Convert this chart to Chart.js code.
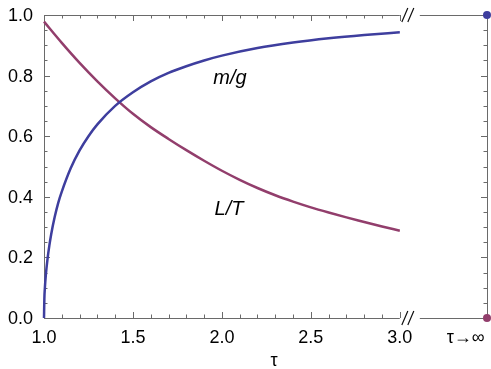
<!DOCTYPE html>
<html>
<head>
<meta charset="utf-8">
<script src="https://cdn.jsdelivr.net/npm/chart.js@4/dist/chart.umd.min.js"></script>
<style>
html,body{margin:0;padding:0;background:#fff;}
#wrap{width:491px;height:369px;position:relative;}
</style>
</head>
<body>
<div id="wrap"><canvas id="c" width="491" height="369"></canvas></div>
<script>
// ---- data ----
const tauMG = [1.0,1.002,1.005,1.01,1.02,1.03,1.04,1.06,1.08,1.1,1.15,1.2,1.25,1.3,1.4,1.5,1.6,1.7,1.8,1.9,2.0,2.2,2.4,2.6,2.8,3.0];
const valMG = [0,0.063,0.1,0.14,0.196,0.239,0.275,0.333,0.38,0.417,0.494,0.553,0.6,0.639,0.7,0.745,0.781,0.809,0.831,0.85,0.866,0.891,0.909,0.923,0.934,0.943];
const tauLT = [1.0,1.1,1.2,1.3,1.4,1.5,1.6,1.7,1.8,1.9,2.0,2.1,2.2,2.3,2.4,2.5,2.6,2.7,2.8,2.9,3.0];
const valLT = [0.978,0.908,0.842,0.781,0.725,0.674,0.630,0.591,0.554,0.519,0.486,0.456,0.429,0.405,0.384,0.365,0.348,0.332,0.317,0.302,0.288];
const limitMG = 1.0;   // value as tau -> infinity
const limitLT = 0.0;
const xTickLabels = [1.0,1.5,2.0,2.5,3.0];
const yTickLabels = [0.0,0.2,0.4,0.6,0.8,1.0];
const limitLabel = 'τ→∞';
const xTitle = 'τ';
const seriesNames = ['m/g','L/T'];

const X_MAX = 3.49;      // position of the "tau -> infinity" column
const X_LIMIT_LABEL = 3.37;
const BLUE = 'rgb(62,62,158)';
const PURPLE = 'rgb(146,62,108)';
const FRAME = '#6a6a6a';
const FONT = '"Liberation Sans", Arial, Helvetica, sans-serif';

const toPts = (xs, ys) => xs.map((x,i)=>({x:x,y:ys[i]}));

const framePlugin = {
  id:'frame',
  beforeDatasetsDraw(chart){
    const ctx = chart.ctx, xs = chart.scales.x, ys = chart.scales.y;
    const a = chart.chartArea;
    const x3 = xs.getPixelForValue(3.0);
    const y0 = ys.getPixelForValue(0), y1 = ys.getPixelForValue(1);
    ctx.save();
    ctx.strokeStyle = FRAME; ctx.lineWidth = 1;
    ctx.beginPath();
    ctx.moveTo(a.left+0.5, y1); ctx.lineTo(a.left+0.5, y0);
    ctx.moveTo(a.left, Math.round(y0)+0.5); ctx.lineTo(x3, Math.round(y0)+0.5);
    ctx.moveTo(a.left, Math.round(y1)+0.5); ctx.lineTo(x3, Math.round(y1)+0.5);
    ctx.moveTo(x3+20, Math.round(y0)+0.5); ctx.lineTo(a.right, Math.round(y0)+0.5);
    ctx.moveTo(x3+20, Math.round(y1)+0.5); ctx.lineTo(a.right, Math.round(y1)+0.5);
    ctx.moveTo(a.right+0.5, y1); ctx.lineTo(a.right+0.5, y0);
    ctx.stroke();
    ctx.beginPath();
    for(let i=0;i<=20;i++){
      const v = 1 + i*0.1;
      const px = Math.round(xs.getPixelForValue(v))+0.5;
      const len = (i%5===0)?6:3.5;
      ctx.moveTo(px, y0); ctx.lineTo(px, y0-len);
      ctx.moveTo(px, y1); ctx.lineTo(px, y1+len);
    }
    for(let i=0;i<=20;i++){
      const v = i*0.05;
      const py = Math.round(ys.getPixelForValue(v))+0.5;
      const len = (i%4===0)?6:3.5;
      ctx.moveTo(a.left, py); ctx.lineTo(a.left+len, py);
      ctx.moveTo(a.right, py); ctx.lineTo(a.right-len, py);
    }
    ctx.stroke();
    ctx.strokeStyle = '#111'; ctx.lineWidth = 1.2;
    ctx.beginPath();
    [y0,y1].forEach(yy=>{
      [x3+5, x3+11].forEach(cx=>{
        ctx.moveTo(cx-3, yy+7); ctx.lineTo(cx+3, yy-7);
      });
    });
    ctx.stroke();
    ctx.restore();
  },
  afterDraw(chart){
    const ctx = chart.ctx, xs = chart.scales.x, ys = chart.scales.y;
    const a = chart.chartArea;
    ctx.save();
    ctx.fillStyle = '#000';
    ctx.font = '18px ' + FONT;
    ctx.textAlign = 'right'; ctx.textBaseline = 'middle';
    yTickLabels.forEach(v=>{
      ctx.fillText(v.toFixed(1), a.left-11, ys.getPixelForValue(v)+1);
    });
    ctx.textAlign = 'center'; ctx.textBaseline = 'alphabetic';
    xTickLabels.forEach(v=>{
      ctx.fillText(v.toFixed(1), xs.getPixelForValue(v), 343);
    });
    ctx.fillText(limitLabel, xs.getPixelForValue(X_LIMIT_LABEL), 343);
    ctx.fillText(xTitle, 274, 366);
    ctx.font = 'italic 20px ' + FONT;
    ctx.fillText(seriesNames[0], 230, 84);
    ctx.fillText(seriesNames[1], 229, 215);
    ctx.restore();
  }
};

new Chart(document.getElementById('c'), {
  type:'scatter',
  data:{
    datasets:[
      {label:seriesNames[0], data:toPts(tauMG,valMG), showLine:true, borderColor:BLUE, borderWidth:2.5, pointRadius:0, cubicInterpolationMode:'monotone', clip:false},
      {label:seriesNames[1], data:toPts(tauLT,valLT), showLine:true, borderColor:PURPLE, borderWidth:2.5, pointRadius:0, cubicInterpolationMode:'monotone', clip:false},
      {label:'limit m/g', data:[{x:X_MAX,y:limitMG}], pointRadius:4, pointBackgroundColor:BLUE, pointBorderWidth:0, clip:false},
      {label:'limit L/T', data:[{x:X_MAX,y:limitLT}], pointRadius:4, pointBackgroundColor:PURPLE, pointBorderWidth:0, clip:false}
    ]
  },
  options:{
    responsive:false, animation:false,
    layout:{padding:{left:44, right:2, top:15, bottom:51}},
    plugins:{legend:{display:false}, tooltip:{enabled:false}},
    scales:{
      x:{type:'linear', min:1, max:X_MAX, display:false},
      y:{type:'linear', min:0, max:1, display:false}
    }
  },
  plugins:[framePlugin]
});
</script>
</body>
</html>
